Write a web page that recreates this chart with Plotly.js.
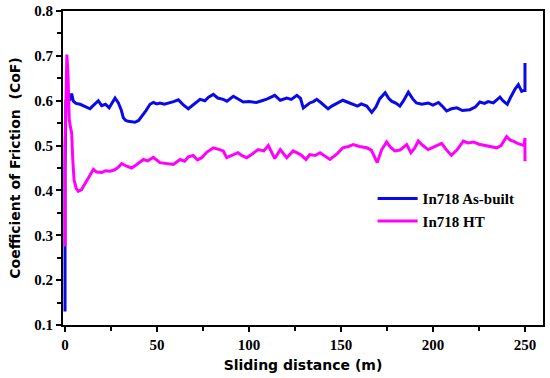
<!DOCTYPE html>
<html><head><meta charset="utf-8">
<script src="https://cdn.plot.ly/plotly-3.0.1.min.js"></script>
<style>html,body{margin:0;padding:0;background:#fff}#chart{width:550px;height:378px}</style>
</head><body><div id="chart"></div>
<script>
const asBuiltX = [0, 0, 0.5, 1.5, 2.5, 3.6, 4.5, 6, 8.2, 10,
  12, 13.6, 15, 16.5, 18.1, 19.9, 22, 24, 25.5, 27.2,
  29, 30.5, 31.7, 33, 34.4, 36, 38, 40, 41.7, 44,
  46.2, 48, 50, 51.6, 54, 57, 59, 61.6, 64, 67,
  70, 73.4, 76, 78, 80.6, 83, 86, 88, 91.5, 94,
  96.9, 100, 104, 107, 110, 114, 117, 120.5, 123, 126,
  128, 129.5, 131, 133, 135, 136.8, 139, 141, 143, 145,
  148, 151, 154, 156.7, 159, 161, 164, 166.7, 169, 171,
  174, 176, 177.5, 180, 182, 184, 186.6, 189, 191, 194,
  197.4, 200, 203, 205, 207.4, 210, 213, 216, 220, 223,
  225.5, 228, 230, 232.8, 234, 236.4, 238, 240.4, 242, 244.6,
  246.4, 248.2, 249.5, 250, 250];
const asBuiltCoF = [0.13, 0.45, 0.6, 0.605, 0.6, 0.616, 0.599, 0.594, 0.592, 0.589,
  0.585, 0.582, 0.588, 0.594, 0.6, 0.589, 0.592, 0.584, 0.594, 0.606,
  0.595, 0.58, 0.562, 0.556, 0.554, 0.553, 0.552, 0.556, 0.565, 0.578,
  0.592, 0.596, 0.593, 0.595, 0.592, 0.595, 0.598, 0.602, 0.592, 0.582,
  0.592, 0.603, 0.6, 0.608, 0.614, 0.606, 0.603, 0.599, 0.61, 0.604,
  0.597, 0.598, 0.596, 0.6, 0.604, 0.612, 0.601, 0.606, 0.603, 0.612,
  0.605, 0.584, 0.588, 0.595, 0.598, 0.603, 0.596, 0.59, 0.582, 0.588,
  0.594, 0.601, 0.596, 0.592, 0.588, 0.593, 0.588, 0.574, 0.586, 0.604,
  0.618, 0.605, 0.599, 0.594, 0.588, 0.6, 0.619, 0.604, 0.595, 0.592,
  0.595, 0.59, 0.596, 0.588, 0.577, 0.582, 0.584, 0.578, 0.58, 0.586,
  0.597, 0.594, 0.598, 0.595, 0.6, 0.608, 0.6, 0.592, 0.606, 0.626,
  0.636, 0.621, 0.623, 0.623, 0.684];

const htX = [0, 0, 0.5, 1, 1.6, 2.3, 3, 3.6, 4.2, 4.9,
  6, 7.2, 9, 10.9, 13, 15.4, 17.2, 20, 22, 24.5,
  27, 29, 30.8, 33.5, 36.2, 39, 42.6, 45, 48, 51.6,
  55, 58.9, 62.5, 65, 67, 69.7, 72, 74.3, 77, 80.6,
  84, 86, 87.9, 91, 94, 96, 98.7, 102, 105, 108,
  110.5, 114, 117, 120.5, 124, 128, 131, 133, 136, 138.6,
  141, 144, 148, 151, 154, 156.7, 160, 164, 166.5, 168,
  169.7, 172, 174.8, 177, 179.3, 182, 185.7, 188, 190, 192,
  194.5, 197.4, 200, 202, 204.7, 207, 210, 213, 216.5, 219,
  222, 225, 229, 232, 234.6, 237, 240, 242, 243.6, 246,
  248.2, 249.5, 250, 250];
const htCoF = [0.275, 0.5, 0.6, 0.703, 0.66, 0.558, 0.54, 0.528, 0.47, 0.424,
  0.405, 0.398, 0.402, 0.417, 0.43, 0.447, 0.441, 0.44, 0.444, 0.443,
  0.446, 0.452, 0.46, 0.454, 0.45, 0.458, 0.469, 0.466, 0.474, 0.462,
  0.46, 0.458, 0.469, 0.465, 0.475, 0.478, 0.468, 0.473, 0.485, 0.495,
  0.491, 0.488, 0.473, 0.478, 0.484, 0.478, 0.473, 0.482, 0.491, 0.488,
  0.5, 0.471, 0.491, 0.473, 0.488, 0.48, 0.469, 0.48, 0.478, 0.484,
  0.477, 0.469, 0.482, 0.495, 0.498, 0.502, 0.498, 0.495, 0.49, 0.478,
  0.462, 0.49, 0.508, 0.496, 0.488, 0.49, 0.502, 0.484, 0.494, 0.51,
  0.5, 0.491, 0.496, 0.5, 0.505, 0.492, 0.478, 0.49, 0.51, 0.506,
  0.508, 0.503, 0.5, 0.498, 0.495, 0.5, 0.52, 0.512, 0.51, 0.505,
  0.502, 0.5, 0.517, 0.465];

const xTickVals = [0, 50, 100, 150, 200, 250];
const yTickVals = [0.1, 0.2, 0.3, 0.4, 0.5, 0.6, 0.7, 0.8];
const yTickText = ['0.1', '0.2', '0.3', '0.4', '0.5', '0.6', '0.7', '0.8'];

const tickFont = {family: 'Liberation Serif, Times New Roman, serif', size: 15, color: '#000', weight: 'bold'};
const titleFont = {family: 'DejaVu Sans, Verdana, sans-serif', size: 14, color: '#000', weight: 'bold'};

const traces = [
  {x: asBuiltX, y: asBuiltCoF, name: 'In718 As-built', mode: 'lines', line: {color: '#0a0ae6', width: 3}},
  {x: htX, y: htCoF, name: 'In718 HT', mode: 'lines', line: {color: '#ff00ff', width: 3}}
];

const layout = {
  width: 550, height: 378,
  margin: {l: 63, r: 7, t: 11, b: 53},
  paper_bgcolor: '#fff', plot_bgcolor: '#fff',
  showlegend: true,
  legend: {x: 0.645, y: 0.455, xanchor: 'left', yanchor: 'top', bgcolor: 'rgba(0,0,0,0)',
    font: {family: 'Liberation Serif, Times New Roman, serif', size: 15, color: '#000', weight: 'bold'},
    tracegroupgap: 0, itemwidth: 40},
  xaxis: {
    range: [-1.1, 259.8], tickvals: xTickVals, ticks: 'outside', ticklen: 5, tickwidth: 2, tickcolor: '#000',
    minor: {tickvals: [25, 75, 125, 175, 225], ticks: 'outside', ticklen: 4, tickwidth: 2, tickcolor: '#000'},
    showline: true, linewidth: 2, linecolor: '#000', mirror: true, showgrid: false, zeroline: false,
    tickfont: tickFont,
    title: {text: 'Sliding distance (m)', font: titleFont, standoff: 8}
  },
  yaxis: {
    range: [0.1, 0.8], tickvals: yTickVals, ticktext: yTickText, ticks: 'outside', ticklen: 5, tickwidth: 2, tickcolor: '#000',
    minor: {tickvals: [0.15, 0.25, 0.35, 0.45, 0.55, 0.65, 0.75], ticks: 'outside', ticklen: 4, tickwidth: 2, tickcolor: '#000'},
    showline: true, linewidth: 2, linecolor: '#000', mirror: true, showgrid: false, zeroline: false,
    tickfont: tickFont,
    title: {text: 'Coefficient of Friction  (CoF)', font: titleFont, standoff: 10}
  }
};

Plotly.newPlot('chart', traces, layout, {displayModeBar: false, staticPlot: true});
</script>
</body></html>
